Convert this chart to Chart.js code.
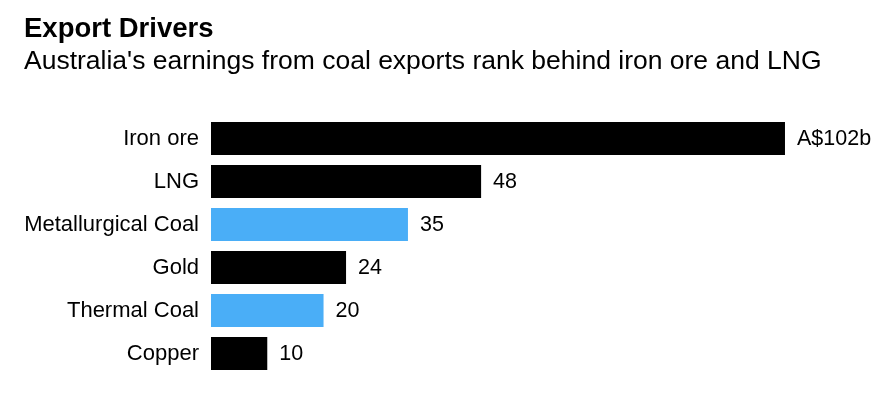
<!DOCTYPE html>
<html>
<head>
<meta charset="utf-8">
<script src="https://cdn.jsdelivr.net/npm/chart.js@4"></script>
<style>
  html, body { margin: 0; padding: 0; background: #fff; }
  #wrap { position: relative; width: 896px; height: 394px; overflow: hidden; }
  #title { position: absolute; left: 24px; top: 12px; font: bold 27.5px "Liberation Sans", Arial, sans-serif; color: #000; white-space: nowrap; line-height: 32px; }
  #subtitle { position: absolute; left: 24px; top: 45px; font: 26.5px "Liberation Sans", Arial, sans-serif; color: #000; white-space: nowrap; line-height: 30px; }
  canvas { position: absolute; left: 0; top: 0; }
</style>
</head>
<body>
<div id="wrap">
  <canvas id="c" width="896" height="394"></canvas>
  <div id="title">Export Drivers</div>
  <div id="subtitle">Australia's earnings from coal exports rank behind iron ore and LNG</div>
</div>
<script>
const categories = ["Iron ore", "LNG", "Metallurgical Coal", "Gold", "Thermal Coal", "Copper"];
const values = [102, 48, 35, 24, 20, 10];
const valueLabels = ["A$102b", "48", "35", "24", "20", "10"];
const coalCategories = ["Metallurgical Coal", "Thermal Coal"];

const BLACK = "#000000";
const BLUE = "#4aaef7";
const barColors = categories.map(c => coalCategories.includes(c) ? BLUE : BLACK);
const FONT = "'Liberation Sans', Arial, sans-serif";

const valueLabelPlugin = {
  id: "valueLabels",
  afterDatasetsDraw(chart) {
    const ctx = chart.ctx;
    const meta = chart.getDatasetMeta(0);
    ctx.save();
    ctx.font = "21.5px " + FONT;
    ctx.fillStyle = "#000";
    ctx.textAlign = "left";
    ctx.textBaseline = "middle";
    meta.data.forEach((bar, i) => {
      ctx.fillText(valueLabels[i], bar.x + 12, bar.y + 1);
    });
    ctx.restore();
  }
};

new Chart(document.getElementById("c"), {
  type: "bar",
  data: {
    labels: categories,
    datasets: [{
      data: values,
      backgroundColor: barColors,
      borderWidth: 0,
      barPercentage: 0.767,
      categoryPercentage: 1.0
    }]
  },
  options: {
    indexAxis: "y",
    responsive: false,
    animation: false,
    layout: { padding: { top: 117, bottom: 19, left: 0, right: 66 } },
    plugins: { legend: { display: false }, tooltip: { enabled: false }, title: { display: false } },
    scales: {
      x: {
        display: false,
        min: 0,
        max: 110
      },
      y: {
        grid: { display: false, drawTicks: false },
        border: { display: false },
        ticks: {
          padding: 12,
          color: "#000",
          font: { family: FONT, size: 22 }
        },
        afterFit(scale) {
          scale.width = 211;
          scale.paddingTop = 0;
          scale.paddingBottom = 0;
        }
      }
    }
  },
  plugins: [valueLabelPlugin]
});
</script>
</body>
</html>
